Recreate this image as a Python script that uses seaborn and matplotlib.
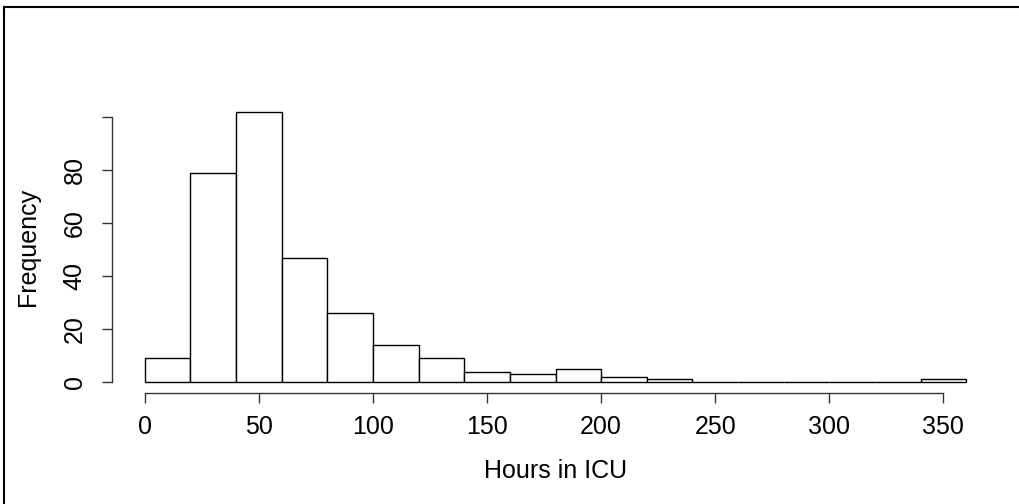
'''
Hours in ICU 直方图 (R 风格)
'''
import numpy as np
import pandas as pd
import matplotlib
matplotlib.use('Agg')
import matplotlib.pyplot as plt
from matplotlib import patches
import seaborn as sns

# 数据: 每个20小时区间的人数
bin_edges = [0, 20, 40, 60, 80, 100, 120, 140, 160, 180, 200, 220, 240,
             260, 280, 300, 320, 340, 360]
counts = [9, 79, 102, 47, 26, 14, 9, 4, 3, 5, 2, 1, 0, 0, 0, 0, 0, 1]
x_ticks = [0, 50, 100, 150, 200, 250, 300, 350]
y_ticks = [0, 20, 40, 60, 80, 100]
y_tick_labels = ['0', '20', '40', '60', '80', '']

mids = [(a + b) / 2 for a, b in zip(bin_edges[:-1], bin_edges[1:])]
df = pd.DataFrame({'hours': mids, 'n': counts})

sns.set_theme(style='white')
plt.rcParams['font.family'] = ['Liberation Sans', 'DejaVu Sans']

fig = plt.figure(figsize=(10.2, 5.04), dpi=100)
ax = fig.add_axes([112 / 1020, 1 - 393 / 504, 887 / 1020, 292 / 504])

sns.histplot(data=df, x='hours', weights='n', bins=bin_edges, stat='count',
             color='white', edgecolor='black', linewidth=1.0, alpha=1,
             ax=ax)

ax.set_xlim(-14.4, 374.4)
ax.set_ylim(-4.1, 106.1)
ax.set_xticks(x_ticks)
ax.set_yticks(y_ticks)
ax.set_yticklabels(y_tick_labels, rotation=90, va='center')

for s in ['top', 'right']:
    ax.spines[s].set_visible(False)
ax.spines['bottom'].set_bounds(0, 350)
ax.spines['left'].set_bounds(0, 100)
for s in ['bottom', 'left']:
    ax.spines[s].set_color('#333333')
    ax.spines[s].set_linewidth(1.0)

ax.tick_params(axis='both', which='major', direction='out', length=7.2,
               width=1.0, color='#333333', labelsize=18, labelcolor='black')
ax.tick_params(axis='x', pad=9, bottom=True)
ax.tick_params(axis='y', pad=11, left=True)

ax.set_xlabel('Hours in ICU', fontsize=18, color='black')
ax.set_ylabel('Frequency', fontsize=18, color='black')
ax.xaxis.set_label_coords(0.5, -0.225)
ax.yaxis.set_label_coords(-0.081, 0.5)

# 外边框
border = patches.Rectangle((4 / 1020, -0.1), 1.2, (504 - 7.5) / 504 + 0.1,
                           transform=fig.transFigure, fill=False,
                           edgecolor='black', linewidth=1.5)
fig.patches.append(border)

fig.savefig('out.png', dpi=100, facecolor='white')
